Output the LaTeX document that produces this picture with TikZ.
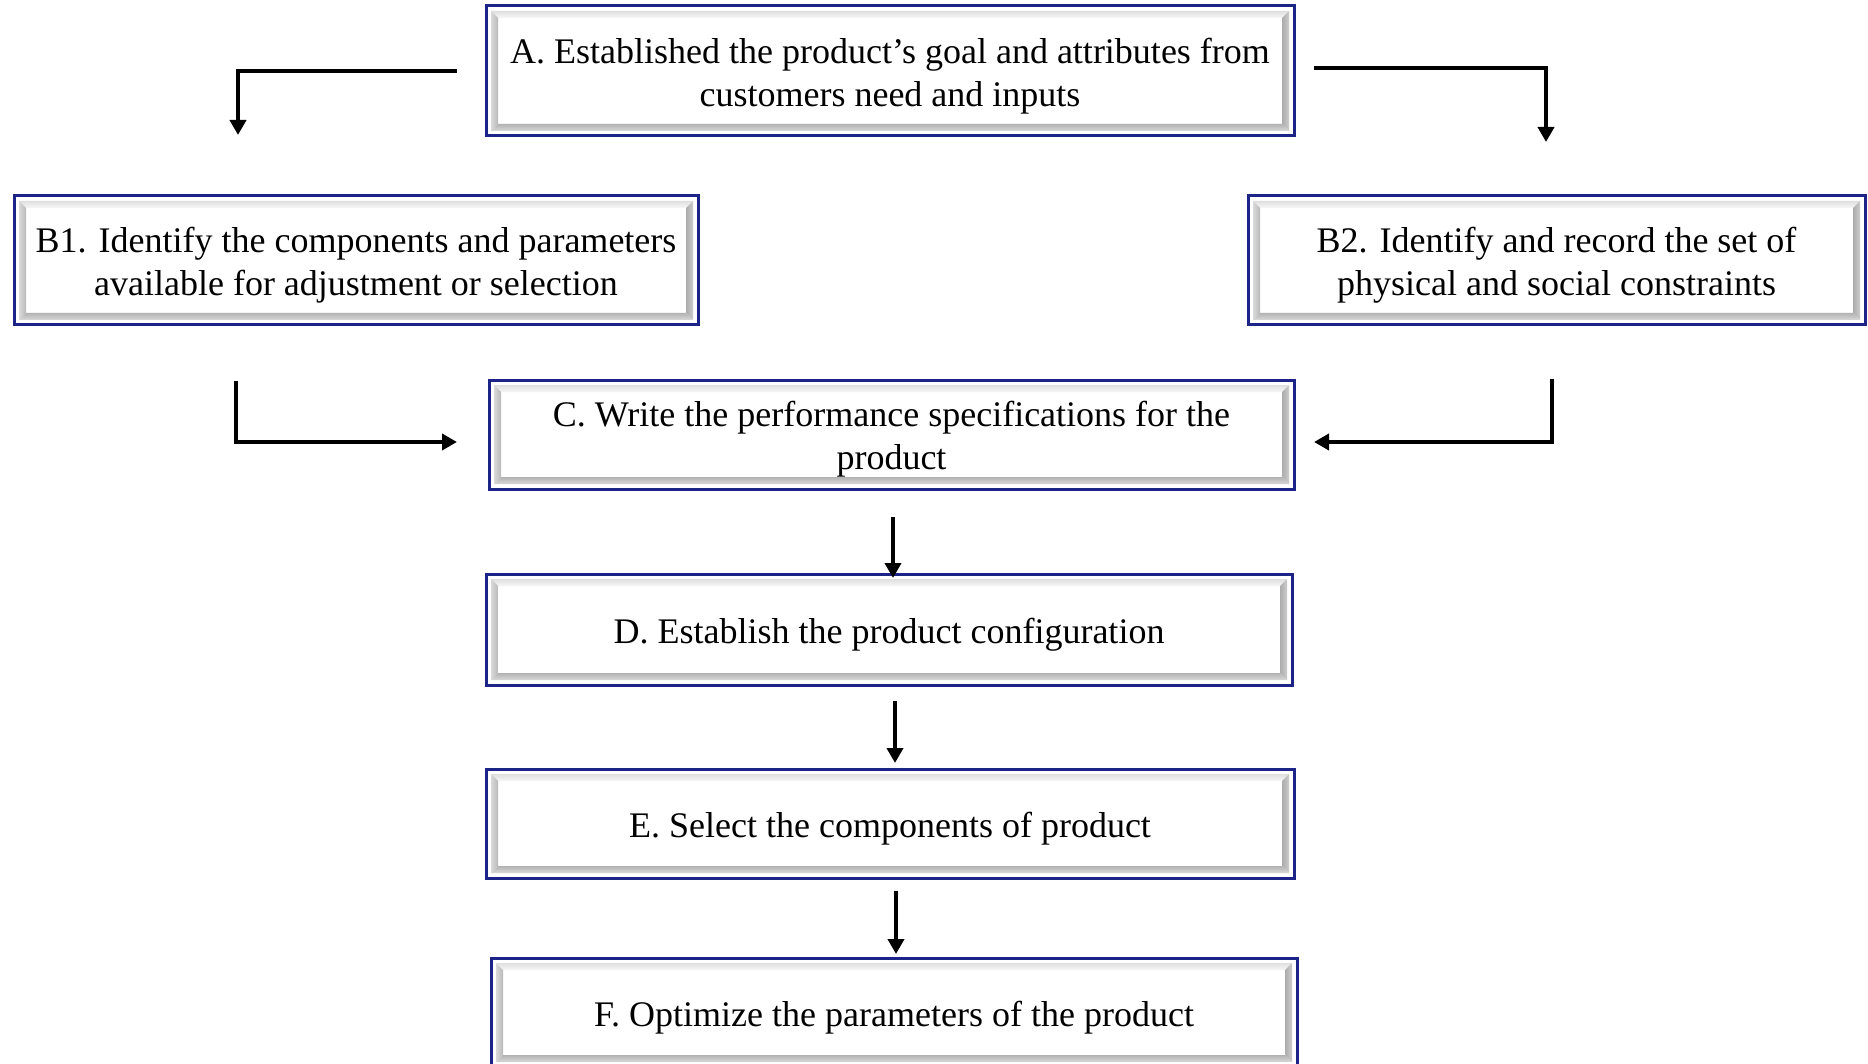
\documentclass[tikz,border=0pt]{standalone}
\usepackage{fontspec}
\setmainfont{Liberation Serif}
\usetikzlibrary{arrows.meta,calc}
\definecolor{boxnavy}{RGB}{28,36,135}
\tikzset{
  stepbox/.style={rectangle, draw=boxnavy, line width=3pt, fill=white,
    inner sep=0pt, outer sep=0pt, align=center,
    font=\fontsize{36}{43}\selectfont,
    % tall invisible rule lowers the text block slightly inside the box
    execute at begin node={\rule{0pt}{#1}},
    path picture={
      \coordinate (p1) at ($(path picture bounding box.south west)+(5pt,5pt)$);
      \coordinate (p2) at ($(path picture bounding box.north east)+(-5pt,-5pt)$);
      \coordinate (q1) at ($(p1)+(7pt,7pt)$);
      \coordinate (q2) at ($(p2)+(-7pt,-7pt)$);
      % raised bevel: light top, grey left, darker right and bottom
      \shade[top color=gray!25, bottom color=gray!6]
        (p1 |- p2) -- (p2) -- (q2) -- (q1 |- q2) -- cycle;
      \shade[left color=gray!30, right color=gray!55]
        (p1) -- (p1 |- p2) -- (q1 |- q2) -- (q1) -- cycle;
      \shade[left color=gray!65, right color=gray!40]
        (p2 |- p1) -- (p2) -- (q2) -- (q2 |- q1) -- cycle;
      \shade[top color=gray!60, bottom color=gray!30]
        (p1) -- (p2 |- p1) -- (q2 |- q1) -- (q1) -- cycle;
    }},
  stepbox/.default=35pt,
  arr/.style={line width=4.5pt, -{Triangle[length=15pt,width=16pt]}},
}
\begin{document}
\begin{tikzpicture}[x=1pt, y=-1pt]
  \useasboundingbox (0,0) rectangle (1868,1064);
  \clip (0,0) rectangle (1868,1064);

  % process steps
  \node[stepbox=78pt, minimum width=808pt, minimum height=130pt] (A) at (890,71)
    {A. Established the product’s goal and attributes from\\customers need and inputs};
  \node[stepbox=78pt, minimum width=684pt, minimum height=129pt] (B1) at (356,260.5)
    {B1. Identify the components and parameters\\available for adjustment or selection};
  \node[stepbox=78pt, minimum width=617pt, minimum height=129pt] (B2) at (1556.5,260.5)
    {B2. Identify and record the set of\\physical and social constraints};
  \node[stepbox=78pt, minimum width=805pt, minimum height=109pt] (C) at (891.5,434.5)
    {C. Write the performance specifications for the\\product};
  \node[stepbox, minimum width=806pt, minimum height=111pt] (D) at (889,629.5)
    {D. Establish the product configuration};
  \node[stepbox, minimum width=808pt, minimum height=109pt] (E) at (890,823.5)
    {E. Select the components of product};
  \node[stepbox, minimum width=806pt, minimum height=109pt] (F) at (894,1012.5)
    {F. Optimize the parameters of the product};

  % free ends of the elbow connectors
  \coordinate (tB1) at (238,135);
  \coordinate (tB2) at (1546,142);
  \coordinate (sB1) at (236,381);
  \coordinate (sB2) at (1552,379);

  % connectors
  \draw[arr] ([xshift=-29pt]A.west) -| (tB1);
  \draw[arr] ([xshift=20pt,yshift=3pt]A.east) -| (tB2);
  \draw[arr] (sB1) |- ([xshift=-32pt,yshift=-7.5pt]C.west);
  \draw[arr] (sB2) |- ([xshift=20pt,yshift=-7.5pt]C.east);
  \draw[arr] ([xshift=1.5pt,yshift=-28pt]C.south) -- ([xshift=1.5pt,yshift=-4pt]C.south |- D.north);
  \draw[arr] ([xshift=6pt,yshift=-16pt]D.south) -- ([xshift=6pt,yshift=6pt]D.south |- E.north);
  \draw[arr] ([xshift=6pt,yshift=-13pt]E.south) -- ([xshift=6pt,yshift=4pt]E.south |- F.north);
\end{tikzpicture}
\end{document}
